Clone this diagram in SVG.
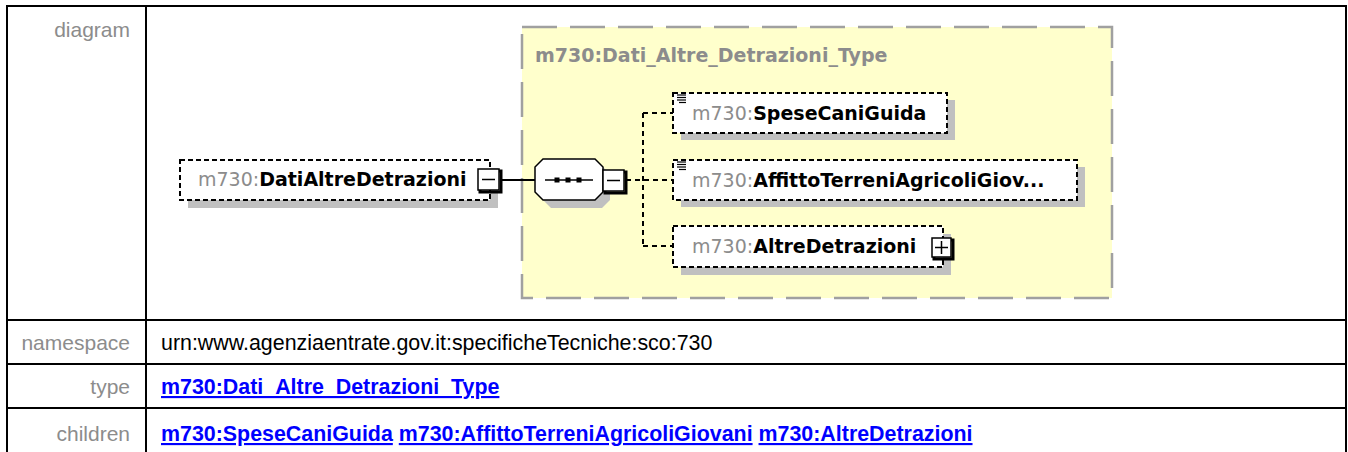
<svg xmlns="http://www.w3.org/2000/svg" width="1348" height="452" viewBox="0 0 1348 452">
<style>
.lbl{font-family:"Liberation Sans",Arial,sans-serif;font-size:21px;fill:#8c8c8c}
.val{font-family:"Liberation Sans",Arial,sans-serif;font-size:21.4px;fill:#000}
.lnk{font-family:"Liberation Sans",Arial,sans-serif;font-size:21.4px;font-weight:bold;fill:#0000ff}
.u{text-decoration:underline}
.grid{stroke:#000;stroke-width:2;fill:none}
.nbox{fill:#fff;stroke:#000;stroke-width:2;stroke-dasharray:5 3}
.shadow{fill:#c0c0c0}
.pfx{font-family:"DejaVu Sans",sans-serif;font-size:19px;fill:#8c8c8c}
.nm{font-family:"DejaVu Sans",sans-serif;font-size:19px;font-weight:bold;fill:#000}
.conn{stroke:#000;stroke-width:2;fill:none;stroke-dasharray:5 4}
.btn{fill:#fff;stroke:#000;stroke-width:1.5}
.btns{fill:none;stroke:#000;stroke-width:3}
.icon{stroke:#000;stroke-width:1.2}
</style>

<g id="table">
  <rect class="grid" x="7" y="6" width="1339" height="470"/>
  <line class="grid" x1="146" y1="6" x2="146" y2="452"/>
  <line class="grid" x1="7" y1="320" x2="1346" y2="320"/>
  <line class="grid" x1="7" y1="364" x2="1346" y2="364"/>
  <line class="grid" x1="7" y1="408" x2="1346" y2="408"/>
  <text class="lbl" x="130" y="37" text-anchor="end">diagram</text>
  <text class="lbl" x="130" y="350" text-anchor="end">namespace</text>
  <text class="lbl" x="130" y="394" text-anchor="end">type</text>
  <text class="lbl" x="130" y="441" text-anchor="end">children</text>
  <text class="val" x="161" y="350">urn:www.agenziaentrate.gov.it:specificheTecniche:sco:730</text>
  <text class="lnk u" x="161" y="394">m730:Dati_Altre_Detrazioni_Type</text>
  <text class="lnk" x="161" y="441"><tspan class="u">m730:SpeseCaniGuida</tspan> <tspan class="u">m730:AffittoTerreniAgricoliGiovani</tspan> <tspan class="u">m730:AltreDetrazioni</tspan></text>
</g>

<g id="type-box">
  <rect x="522" y="27" width="590" height="271" fill="#ffffcc" stroke="#a0a0a0" stroke-width="2.5" stroke-dasharray="35 13"/>
  <text x="535" y="62" font-family="DejaVu Sans, sans-serif" font-size="19" font-weight="bold" fill="#8c8c8c">m730:Dati_Altre_Detrazioni_Type</text>
</g>

<g id="connectors">
  <line x1="500" y1="180" x2="535" y2="180" stroke="#000" stroke-width="2"/>
  <line class="conn" x1="626" y1="180" x2="673" y2="180"/>
  <line class="conn" x1="643" y1="113" x2="643" y2="246"/>
  <line class="conn" x1="643" y1="113" x2="673" y2="113"/>
  <line class="conn" x1="643" y1="246" x2="673" y2="246"/>
</g>

<g id="node-DatiAltreDetrazioni">
  <rect class="shadow" x="188" y="168" width="310" height="40"/>
  <rect class="nbox" x="180" y="160" width="310" height="40"/>
  <text x="198" y="186"><tspan class="pfx">m730:</tspan><tspan class="nm">DatiAltreDetrazioni</tspan></text>
  <rect class="btns" x="480" y="171" width="21" height="21"/>
  <rect class="btn" x="478" y="169" width="21" height="21"/>
  <line x1="482" y1="179.5" x2="495" y2="179.5" stroke="#000" stroke-width="1.5"/>
</g>

<g id="node-sequence">
  <polygon points="551,166 602,166 610,174 610,200 602,208 551,208 543,200 543,174" fill="#c0c0c0"/>
  <polygon points="543,159 595,159 603,167 603,192 595,200 543,200 535,192 535,167" fill="#fff" stroke="#000" stroke-width="1.5"/>
  <line x1="545" y1="180" x2="593" y2="180" stroke="#000" stroke-width="1.5"/>
  <rect x="554.5" y="177.5" width="5" height="5" fill="#000"/>
  <rect x="565.5" y="177.5" width="5" height="5" fill="#000"/>
  <rect x="576.5" y="177.5" width="5" height="5" fill="#000"/>
  <rect class="btns" x="605" y="172" width="21" height="21"/>
  <rect class="btn" x="603" y="170" width="21" height="21"/>
  <line x1="607" y1="180.5" x2="620" y2="180.5" stroke="#000" stroke-width="1.5"/>
</g>

<g id="node-SpeseCaniGuida">
  <rect class="shadow" x="681" y="100" width="274" height="40"/>
  <rect class="nbox" x="673" y="93" width="274" height="40"/>
  <g class="icon">
    <line x1="677" y1="95" x2="686" y2="95"/>
    <line x1="677" y1="97.5" x2="686" y2="97.5"/>
    <line x1="677" y1="100" x2="686" y2="100"/>
    <line x1="679" y1="102.5" x2="686" y2="102.5"/>
  </g>
  <text x="692" y="120"><tspan class="pfx">m730:</tspan><tspan class="nm">SpeseCaniGuida</tspan></text>
</g>

<g id="node-AffittoTerreniAgricoliGiovani">
  <rect class="shadow" x="681" y="167" width="404" height="40"/>
  <rect class="nbox" x="673" y="160" width="404" height="40"/>
  <g class="icon">
    <line x1="677" y1="162" x2="686" y2="162"/>
    <line x1="677" y1="164.5" x2="686" y2="164.5"/>
    <line x1="677" y1="167" x2="686" y2="167"/>
    <line x1="679" y1="169.5" x2="686" y2="169.5"/>
  </g>
  <text x="692" y="187"><tspan class="pfx">m730:</tspan><tspan class="nm">AffittoTerreniAgricoliGiov...</tspan></text>
</g>

<g id="node-AltreDetrazioni">
  <rect class="shadow" x="681" y="234" width="270" height="41"/>
  <rect class="nbox" x="673" y="226" width="270" height="41"/>
  <text x="692" y="253"><tspan class="pfx">m730:</tspan><tspan class="nm">AltreDetrazioni</tspan></text>
  <rect class="btns" x="934" y="240" width="19" height="19"/>
  <rect class="btn" x="932" y="238" width="19" height="19"/>
  <line x1="935" y1="247.5" x2="948" y2="247.5" stroke="#000" stroke-width="1.5"/>
  <line x1="941.5" y1="241" x2="941.5" y2="254" stroke="#000" stroke-width="1.5"/>
</g>
</svg>
